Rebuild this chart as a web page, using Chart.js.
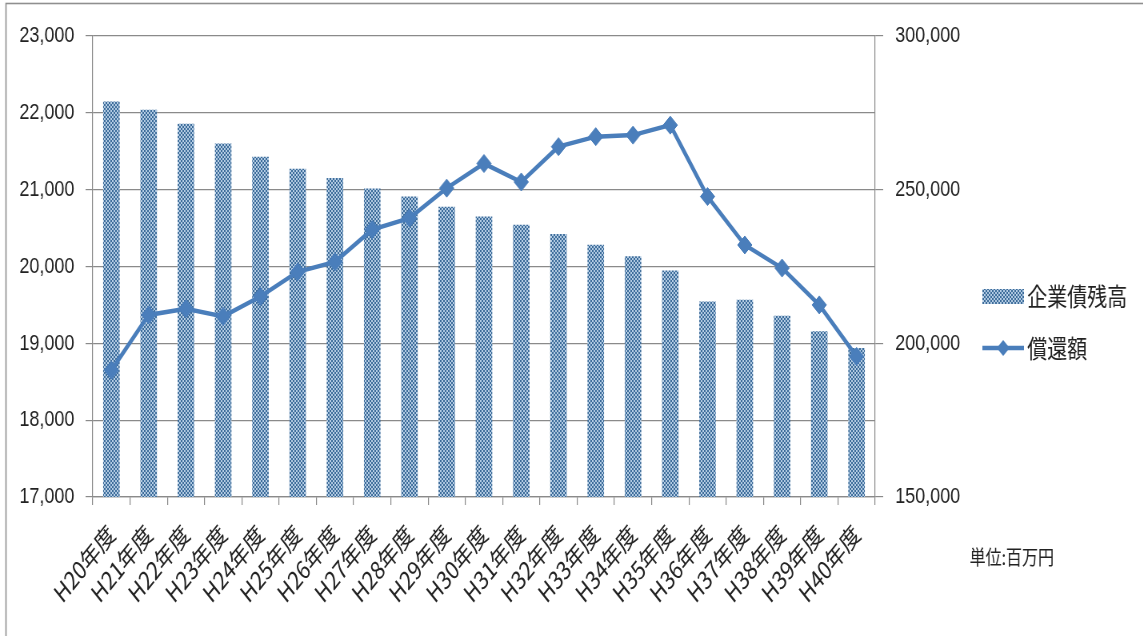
<!DOCTYPE html>
<html lang="ja">
<head>
<meta charset="utf-8">
<title>企業債残高と償還額</title>
<script src="https://cdn.jsdelivr.net/npm/chart.js@4/dist/chart.umd.min.js"></script>
<style>
  html, body { margin: 0; padding: 0; background: #ffffff; overflow: hidden; }
  #wrap { width: 1143px; height: 636px; overflow: hidden; }
  /* the chart is laid out wide and then narrowed, giving the condensed lettering */
  #chart { display: block; transform: scaleX(0.8); transform-origin: 0 0; }
</style>
</head>
<body>
<div id="wrap"><canvas id="chart" width="1429" height="636"></canvas></div>
<script>
// fiscal years
const categories = [
  'H20年度', 'H21年度', 'H22年度', 'H23年度', 'H24年度', 'H25年度', 'H26年度',
  'H27年度', 'H28年度', 'H29年度', 'H30年度', 'H31年度', 'H32年度', 'H33年度',
  'H34年度', 'H35年度', 'H36年度', 'H37年度', 'H38年度', 'H39年度', 'H40年度'
];
// 企業債残高 (right axis, 百万円)
const bondBalance = [
  278600, 275900, 271300, 264900, 260600, 256700, 253700,
  250300, 247700, 244300, 241200, 238500, 235500, 232000,
  228200, 223600, 213500, 214100, 208900, 203800, 198400
];
// 償還額 (left axis, 百万円)
const redemption = [
  18650, 19370, 19450, 19350, 19610, 19930, 20060,
  20480, 20630, 21020, 21340, 21100, 21560, 21690,
  21710, 21840, 20910, 20280, 19980, 19500, 18830
];
// axis ranges: [min, max, step]
const leftAxisRange = [17000, 23000, 1000];
const rightAxisRange = [150000, 300000, 50000];
const seriesNames = ['企業債残高', '償還額'];
const unitText = '単位:百万円';

const LINE_BLUE = '#4a7ebb';
const GRID = '#8a8a8a';
const TEXT = '#222222';
const NUM_FONT = 'Liberation Sans, Arial, sans-serif';
const JP_FONT = '"Noto Sans CJK JP", "Noto Sans", sans-serif';

function makeDotPattern(ctx) {
  const c = document.createElement('canvas');
  c.width = 4; c.height = 4;
  const g = c.getContext('2d');
  g.fillStyle = '#3d6c9a';
  g.fillRect(0, 0, 4, 4);
  g.fillStyle = '#b4cce4';
  g.fillRect(0, 0, 2, 2);
  g.fillRect(2, 2, 2, 2);
  return ctx.createPattern(c, 'repeat');
}

const canvas = document.getElementById('chart');
const ctx = canvas.getContext('2d');
const barPattern = makeDotPattern(ctx);

const fmt = v => Number(v).toLocaleString('en-US');

// page frame, legend and unit note
const decorations = {
  id: 'decorations',
  beforeDraw(chart) {
    const c = chart.ctx;
    c.save();
    c.fillStyle = '#ffffff';
    c.fillRect(0, 0, chart.width, chart.height);
    c.strokeStyle = '#8f8f8f';
    c.lineWidth = 1.6;
    c.strokeRect(7.5, 3.5, chart.width + 20, chart.height + 20);
    c.restore();
  },
  afterDraw(chart) {
    const c = chart.ctx;
    c.save();
    // bar legend entry
    c.fillStyle = barPattern;
    c.fillRect(1228, 289, 52, 15);
    c.fillStyle = TEXT;
    c.font = '25px ' + JP_FONT;
    c.textBaseline = 'middle';
    c.textAlign = 'left';
    c.fillText(seriesNames[0], 1284, 296);
    // line legend entry
    c.strokeStyle = LINE_BLUE;
    c.lineWidth = 4.5;
    c.beginPath();
    c.moveTo(1228, 348);
    c.lineTo(1280, 348);
    c.stroke();
    c.fillStyle = LINE_BLUE;
    c.beginPath();
    c.moveTo(1254 - 8, 348);
    c.lineTo(1254, 340);
    c.lineTo(1254 + 8, 348);
    c.lineTo(1254, 356);
    c.closePath();
    c.fill();
    c.fillStyle = TEXT;
    c.fillText(seriesNames[1], 1284, 348);
    // unit
    c.font = '20px ' + JP_FONT;
    c.fillText(unitText, 1212, 557);
    c.restore();
  }
};

new Chart(ctx, {
  data: {
    labels: categories,
    datasets: [
      {
        type: 'line',
        label: seriesNames[1],
        data: redemption,
        yAxisID: 'yLeft',
        borderColor: LINE_BLUE,
        backgroundColor: LINE_BLUE,
        borderWidth: 4.5,
        pointStyle: 'rectRot',
        pointRadius: 9,
        pointBorderWidth: 1,
        pointBackgroundColor: LINE_BLUE,
        pointBorderColor: LINE_BLUE,
        tension: 0,
        order: 1
      },
      {
        type: 'bar',
        label: seriesNames[0],
        data: bondBalance,
        yAxisID: 'yRight',
        backgroundColor: barPattern,
        borderWidth: 0,
        barThickness: 20,
        order: 2
      }
    ]
  },
  options: {
    responsive: false,
    animation: false,
    devicePixelRatio: 1,
    layout: { padding: { left: 0, right: 215, top: 36, bottom: 0 } },
    plugins: {
      legend: { display: false },
      tooltip: { enabled: false }
    },
    scales: {
      x: {
        type: 'category',
        offset: true,
        grid: {
          offset: true,
          drawOnChartArea: false,
          drawTicks: true,
          tickLength: 8,
          color: GRID,
          lineWidth: 1.2
        },
        border: { display: true, color: GRID, width: 1.2 },
        ticks: {
          autoSkip: false,
          maxRotation: 45,
          minRotation: 45,
          padding: 14,
          color: TEXT,
          font: { family: JP_FONT, size: 25 }
        },
        afterFit(scale) { scale.height = 139; }
      },
      yLeft: {
        type: 'linear',
        position: 'left',
        min: leftAxisRange[0],
        max: leftAxisRange[1],
        grid: {
          color: GRID,
          lineWidth: 1.2,
          drawTicks: true,
          tickLength: 9,
          tickColor: GRID
        },
        border: { display: true, color: GRID, width: 1.2 },
        ticks: {
          stepSize: leftAxisRange[2],
          padding: 14,
          color: TEXT,
          font: { family: NUM_FONT, size: 22.5 },
          callback: v => fmt(v)
        },
        afterFit(scale) { scale.width = 116; }
      },
      yRight: {
        type: 'linear',
        position: 'right',
        min: rightAxisRange[0],
        max: rightAxisRange[1],
        grid: {
          drawOnChartArea: false,
          drawTicks: true,
          tickLength: 10,
          color: GRID,
          lineWidth: 1.2
        },
        border: { display: true, color: GRID, width: 1.2 },
        ticks: {
          stepSize: rightAxisRange[2],
          padding: 15,
          color: TEXT,
          font: { family: NUM_FONT, size: 22.5 },
          callback: v => fmt(v)
        },
        afterFit(scale) { scale.width = 120; }
      }
    }
  },
  plugins: [decorations]
});
</script>
</body>
</html>
